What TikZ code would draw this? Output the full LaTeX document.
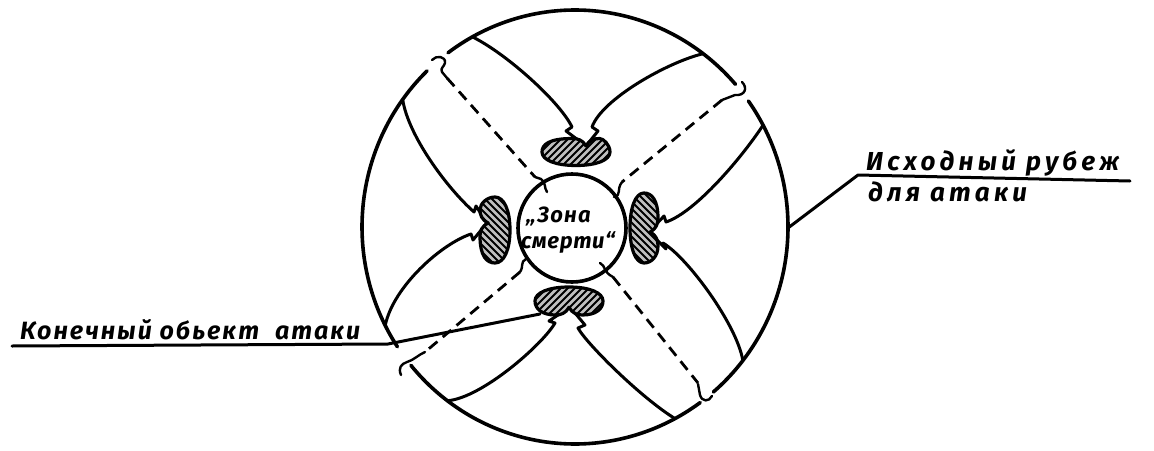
\documentclass[tikz,border=0pt]{standalone}
\usepackage{fontspec}
\newfontfamily\hand{Fira Sans}
\tikzset{
  outline/.style={line width=3.6pt, line cap=round, line join=round},
  edge/.style={line width=3pt, line cap=round, line join=round},
  dashline/.style={line width=2.8pt, dash pattern=on 11pt off 7pt},
  hookline/.style={line width=2.4pt, line cap=round, line join=round},
  blobfill/.style={fill=gray!50},
  blobline/.style={line width=3.2pt, line join=round},
  hatch/.style={line width=1.9pt},
  lbl/.style={font=\hand\bfseries\itshape, inner sep=0pt, anchor=base west},
}
% kidney outline: a = half length, b = half width, n = notch offset
\newcommand\kidneypath[3]{%
  ({#3},{-0.45*#2}) .. controls ({#3-0.1*#1},{-0.9*#2}) and ({#3-0.25*#1},{-#2}) .. ({#3-0.4*#1},{-#2})
  .. controls ({-0.8*#1},{-#2}) and ({-#1},{-0.55*#2}) .. ({-#1},0)
  .. controls ({-#1},{0.6*#2}) and ({-0.6*#1},{#2}) .. (0,{#2})
  .. controls ({0.6*#1},{#2}) and ({#1},{0.6*#2}) .. ({#1},0)
  .. controls ({#1},{-0.55*#2}) and ({0.8*#1},{-#2}) .. ({#3+0.4*#1},{-#2})
  .. controls ({#3+0.25*#1},{-#2}) and ({#3+0.1*#1},{-0.9*#2}) .. cycle}
\newcommand\kidney[6]{% cx, cy, a, b, rotation, notch offset
  \begin{scope}[shift={(#1,#2)}, rotate=#5]
    \fill[blobfill] \kidneypath{#3}{#4}{#6};
    \begin{scope}
      \clip \kidneypath{#3}{#4}{#6};
      \foreach \k in {-77,-70,...,77} \draw[hatch] ({\k-30},30) -- ({\k+30},-30);
    \end{scope}
    \draw[blobline] \kidneypath{#3}{#4}{#6};
  \end{scope}}
\begin{document}
\begin{tikzpicture}[x=1pt,y=-1pt]
\useasboundingbox (0,0) rectangle (1154,450);
\fill[white] (0,0) rectangle (1154,450);

% big circle (start line), broken where the dashed lines meet it
\foreach \a/\b in {41.1/126.6, 134/213.5, 219.6/306, 310.5/395.5}{
  \draw[outline] plot[domain=\a:\b, samples=70, smooth] ({575+213*cos(\x)},{227-217*sin(\x)});
}

% start points of the arrows on the big circle
\foreach \n/\t in {s1/118.8, s2/53, s3/144, s4/207, s5/233.2, s6/298, s7/322, s8/28}{
  \coordinate (\n) at ({575+213*cos(\t)},{227-217*sin(\t)});
}

% small circle: zone of death
\node[draw, circle, line width=3.6pt, minimum size=108pt, inner sep=0pt] (zone) at (572,228) {};
\node[lbl, font=\hand\bfseries\itshape\fontsize{22}{24}\selectfont\addfontfeature{LetterSpace=6}] (zona) at (526,222) {„Зона};
\node[lbl, font=\hand\bfseries\itshape\fontsize{22}{24}\selectfont\addfontfeature{LetterSpace=3}] (smerti) at (521,248) {смерти“};

% arrow tips
\coordinate (tT) at (586,146);
\coordinate (tB) at (570,307);
\coordinate (tL) at (487,223);
\coordinate (tR) at (649,232);

% arrows
\draw[edge] (s1) .. controls (507,54) and (560,102) .. (572,127) -- (566,131) -- (tT);
\draw[edge] (s2) .. controls (668,62) and (602,99) .. (592,127) -- (598,131) -- (tT);
\draw[edge] (s3) .. controls (408,135) and (446,187) .. (474,212) -- (476,206) -- (tL);
\draw[edge] (s4) .. controls (393,287) and (441,244) .. (471,234) -- (473,240) -- (tL);
\draw[edge] (s5) .. controls (482,398) and (543,344) .. (555,323) -- (549,321) -- (tB);
\draw[edge] (s6) .. controls (640,397) and (586,343) .. (578,328) -- (585,325) -- (tB);
\draw[edge] (s7) .. controls (737,325) and (688,258) .. (663,243) -- (666,249) -- (tR);
\draw[edge] (s8) .. controls (743,156) and (696,212) .. (666,222) -- (664,216) -- (tR);

% dashed lines with end hooks
\draw[dashline] (447,78) -- (535,177);
\draw[dashline] (722,100) -- (622,182);
\draw[dashline] (613,277) -- (698,383);
\draw[dashline] (520,272) -- (425,352);
\draw[hookline] (432,60) .. controls (436,55) and (446,56) .. (445,63) .. controls (444,67) and (440,68) .. (442,72) -- (447,78);
\draw[hookline] (722,100) -- (735,95) .. controls (745,96) and (748,88) .. (742,82);
\draw[hookline] (698,384) -- (700,395) .. controls (702,402) and (709,402) .. (712,396);
\draw[hookline] (425,352) .. controls (418,355) and (414,360) .. (407,362) .. controls (401,364) and (398,368) .. (401,375);
\draw[hookline] (535,177) -- (541,179) .. controls (546,182) and (544,188) .. (547,192);
\draw[hookline] (622,182) .. controls (616,190) and (622,195) .. (614,197);
\draw[hookline] (520,272) .. controls (524,266) and (520,262) .. (526,259);
\draw[hookline] (613,277) .. controls (603,272) and (606,266) .. (600,263);

% leaders
\draw[edge] (12,346) -- (388,344) -- (540,314);
\draw[edge] (788,228) -- (858,175) -- (1130,181);

% objects (hatched)
\kidney{576}{152}{34}{13.5}{0}{10}
\kidney{569}{301}{34}{14}{180}{0}
\kidney{495}{230}{33}{15}{90}{7}
\kidney{644}{228}{35}{14}{-90}{4}

% labels
\node[lbl, font=\hand\bfseries\itshape\fontsize{25}{28}\selectfont\addfontfeature{LetterSpace=8}] (konobj) at (20,339) {Конечный обьект\hspace{16pt}атаки};
\node[lbl, font=\hand\bfseries\itshape\fontsize{26}{28}\selectfont\addfontfeature{LetterSpace=16}] (ishod) at (866,170) {Исходный рубеж};
\node[lbl, font=\hand\bfseries\itshape\fontsize{26}{28}\selectfont\addfontfeature{LetterSpace=16}] (dlya) at (868,201) {для атаки};
\end{tikzpicture}
\end{document}
